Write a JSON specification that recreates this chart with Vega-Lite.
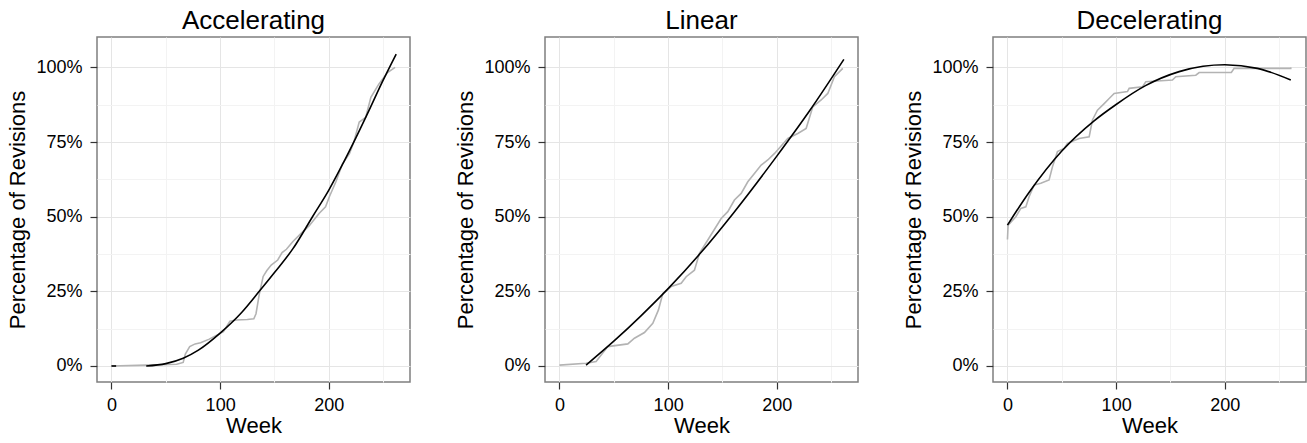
{
  "$schema": "https://vega.github.io/schema/vega-lite/v6.json",
  "background": "white",
  "padding": {"left": 6, "top": 8, "right": 0, "bottom": 0},
  "autosize": {"type": "pad"},
  "datasets": {
    "rows": [
      {"p":"Accelerating","s":"actual","w":0,"v":0},
      {"p":"Accelerating","s":"actual","w":32,"v":0.003},
      {"p":"Accelerating","s":"actual","w":60,"v":0.006},
      {"p":"Accelerating","s":"actual","w":66,"v":0.012},
      {"p":"Accelerating","s":"actual","w":68,"v":0.04},
      {"p":"Accelerating","s":"actual","w":72,"v":0.065},
      {"p":"Accelerating","s":"actual","w":77,"v":0.074},
      {"p":"Accelerating","s":"actual","w":82,"v":0.078},
      {"p":"Accelerating","s":"actual","w":90,"v":0.09},
      {"p":"Accelerating","s":"actual","w":103,"v":0.115},
      {"p":"Accelerating","s":"actual","w":109,"v":0.15},
      {"p":"Accelerating","s":"actual","w":115,"v":0.154},
      {"p":"Accelerating","s":"actual","w":125,"v":0.156},
      {"p":"Accelerating","s":"actual","w":131,"v":0.158},
      {"p":"Accelerating","s":"actual","w":133,"v":0.175},
      {"p":"Accelerating","s":"actual","w":136,"v":0.24},
      {"p":"Accelerating","s":"actual","w":139.6,"v":0.3},
      {"p":"Accelerating","s":"actual","w":143,"v":0.32},
      {"p":"Accelerating","s":"actual","w":147,"v":0.338},
      {"p":"Accelerating","s":"actual","w":153,"v":0.355},
      {"p":"Accelerating","s":"actual","w":157,"v":0.38},
      {"p":"Accelerating","s":"actual","w":161,"v":0.391},
      {"p":"Accelerating","s":"actual","w":167,"v":0.417},
      {"p":"Accelerating","s":"actual","w":174.5,"v":0.444},
      {"p":"Accelerating","s":"actual","w":182,"v":0.47},
      {"p":"Accelerating","s":"actual","w":191,"v":0.511},
      {"p":"Accelerating","s":"actual","w":197,"v":0.533},
      {"p":"Accelerating","s":"actual","w":200.5,"v":0.567},
      {"p":"Accelerating","s":"actual","w":206.5,"v":0.617},
      {"p":"Accelerating","s":"actual","w":212.7,"v":0.678},
      {"p":"Accelerating","s":"actual","w":219,"v":0.711},
      {"p":"Accelerating","s":"actual","w":223,"v":0.75},
      {"p":"Accelerating","s":"actual","w":228,"v":0.817},
      {"p":"Accelerating","s":"actual","w":234,"v":0.833},
      {"p":"Accelerating","s":"actual","w":238.7,"v":0.9},
      {"p":"Accelerating","s":"actual","w":246,"v":0.944},
      {"p":"Accelerating","s":"actual","w":254,"v":0.983},
      {"p":"Accelerating","s":"actual","w":261,"v":1.0},
      {"p":"Accelerating","s":"fit0","w":0,"v":0},
      {"p":"Accelerating","s":"fit0","w":4.3,"v":0},
      {"p":"Accelerating","s":"fit","w":32,"v":0},
      {"p":"Accelerating","s":"fit","w":50,"v":0.008},
      {"p":"Accelerating","s":"fit","w":66,"v":0.026},
      {"p":"Accelerating","s":"fit","w":80,"v":0.053},
      {"p":"Accelerating","s":"fit","w":100,"v":0.11},
      {"p":"Accelerating","s":"fit","w":120,"v":0.18},
      {"p":"Accelerating","s":"fit","w":136,"v":0.25},
      {"p":"Accelerating","s":"fit","w":150,"v":0.313},
      {"p":"Accelerating","s":"fit","w":167,"v":0.393},
      {"p":"Accelerating","s":"fit","w":185,"v":0.5},
      {"p":"Accelerating","s":"fit","w":200,"v":0.589},
      {"p":"Accelerating","s":"fit","w":213,"v":0.678},
      {"p":"Accelerating","s":"fit","w":225,"v":0.765},
      {"p":"Accelerating","s":"fit","w":237,"v":0.856},
      {"p":"Accelerating","s":"fit","w":249,"v":0.95},
      {"p":"Accelerating","s":"fit","w":262,"v":1.045},

      {"p":"Linear","s":"actual","w":0,"v":0.003},
      {"p":"Linear","s":"actual","w":24.5,"v":0.009},
      {"p":"Linear","s":"actual","w":33.7,"v":0.015},
      {"p":"Linear","s":"actual","w":44.5,"v":0.065},
      {"p":"Linear","s":"actual","w":62.9,"v":0.074},
      {"p":"Linear","s":"actual","w":69,"v":0.093},
      {"p":"Linear","s":"actual","w":78.2,"v":0.112},
      {"p":"Linear","s":"actual","w":85.9,"v":0.143},
      {"p":"Linear","s":"actual","w":91.1,"v":0.188},
      {"p":"Linear","s":"actual","w":95.1,"v":0.243},
      {"p":"Linear","s":"actual","w":102.8,"v":0.266},
      {"p":"Linear","s":"actual","w":112,"v":0.277},
      {"p":"Linear","s":"actual","w":116.6,"v":0.299},
      {"p":"Linear","s":"actual","w":124.2,"v":0.321},
      {"p":"Linear","s":"actual","w":128.8,"v":0.377},
      {"p":"Linear","s":"actual","w":136.5,"v":0.422},
      {"p":"Linear","s":"actual","w":148.8,"v":0.494},
      {"p":"Linear","s":"actual","w":154.9,"v":0.517},
      {"p":"Linear","s":"actual","w":161,"v":0.556},
      {"p":"Linear","s":"actual","w":167.2,"v":0.578},
      {"p":"Linear","s":"actual","w":173.3,"v":0.617},
      {"p":"Linear","s":"actual","w":179.4,"v":0.645},
      {"p":"Linear","s":"actual","w":185.6,"v":0.673},
      {"p":"Linear","s":"actual","w":191.7,"v":0.69},
      {"p":"Linear","s":"actual","w":197.9,"v":0.712},
      {"p":"Linear","s":"actual","w":210.1,"v":0.762},
      {"p":"Linear","s":"actual","w":219.3,"v":0.779},
      {"p":"Linear","s":"actual","w":227,"v":0.796},
      {"p":"Linear","s":"actual","w":233.1,"v":0.868},
      {"p":"Linear","s":"actual","w":240.8,"v":0.891},
      {"p":"Linear","s":"actual","w":246.9,"v":0.913},
      {"p":"Linear","s":"actual","w":253,"v":0.969},
      {"p":"Linear","s":"actual","w":260.7,"v":0.997},
      {"p":"Linear","s":"fit","w":24.5,"v":0.003},
      {"p":"Linear","s":"fit","w":50,"v":0.083},
      {"p":"Linear","s":"fit","w":75,"v":0.168},
      {"p":"Linear","s":"fit","w":100,"v":0.259},
      {"p":"Linear","s":"fit","w":130,"v":0.379},
      {"p":"Linear","s":"fit","w":160,"v":0.512},
      {"p":"Linear","s":"fit","w":200,"v":0.703},
      {"p":"Linear","s":"fit","w":230,"v":0.854},
      {"p":"Linear","s":"fit","w":261.7,"v":1.027},

      {"p":"Decelerating","s":"actual","w":0,"v":0.424},
      {"p":"Decelerating","s":"actual","w":0.6,"v":0.472},
      {"p":"Decelerating","s":"actual","w":7.7,"v":0.5},
      {"p":"Decelerating","s":"actual","w":12.3,"v":0.528},
      {"p":"Decelerating","s":"actual","w":16.9,"v":0.533},
      {"p":"Decelerating","s":"actual","w":19.9,"v":0.567},
      {"p":"Decelerating","s":"actual","w":24.5,"v":0.606},
      {"p":"Decelerating","s":"actual","w":30.7,"v":0.612},
      {"p":"Decelerating","s":"actual","w":38.3,"v":0.623},
      {"p":"Decelerating","s":"actual","w":41.4,"v":0.667},
      {"p":"Decelerating","s":"actual","w":46,"v":0.718},
      {"p":"Decelerating","s":"actual","w":52.1,"v":0.729},
      {"p":"Decelerating","s":"actual","w":55.2,"v":0.746},
      {"p":"Decelerating","s":"actual","w":66,"v":0.762},
      {"p":"Decelerating","s":"actual","w":75.2,"v":0.768},
      {"p":"Decelerating","s":"actual","w":78.2,"v":0.824},
      {"p":"Decelerating","s":"actual","w":82.8,"v":0.857},
      {"p":"Decelerating","s":"actual","w":89,"v":0.879},
      {"p":"Decelerating","s":"actual","w":93.6,"v":0.896},
      {"p":"Decelerating","s":"actual","w":98.2,"v":0.913},
      {"p":"Decelerating","s":"actual","w":110.4,"v":0.919},
      {"p":"Decelerating","s":"actual","w":112,"v":0.93},
      {"p":"Decelerating","s":"actual","w":124.2,"v":0.935},
      {"p":"Decelerating","s":"actual","w":127.3,"v":0.952},
      {"p":"Decelerating","s":"actual","w":151.8,"v":0.958},
      {"p":"Decelerating","s":"actual","w":154.9,"v":0.969},
      {"p":"Decelerating","s":"actual","w":173.3,"v":0.974},
      {"p":"Decelerating","s":"actual","w":176.4,"v":0.983},
      {"p":"Decelerating","s":"actual","w":206,"v":0.983},
      {"p":"Decelerating","s":"actual","w":208.6,"v":0.997},
      {"p":"Decelerating","s":"actual","w":260.7,"v":0.997},
      {"p":"Decelerating","s":"actual","w":260.8,"v":1.0},
      {"p":"Decelerating","s":"fit","w":0,"v":0.472},
      {"p":"Decelerating","s":"fit","w":20,"v":0.582},
      {"p":"Decelerating","s":"fit","w":50,"v":0.72},
      {"p":"Decelerating","s":"fit","w":80,"v":0.822},
      {"p":"Decelerating","s":"fit","w":100,"v":0.876},
      {"p":"Decelerating","s":"fit","w":127,"v":0.939},
      {"p":"Decelerating","s":"fit","w":158,"v":0.986},
      {"p":"Decelerating","s":"fit","w":180,"v":1.004},
      {"p":"Decelerating","s":"fit","w":200,"v":1.009},
      {"p":"Decelerating","s":"fit","w":230,"v":0.997},
      {"p":"Decelerating","s":"fit","w":260.7,"v":0.958}
    ]
  },
  "data": {"name": "rows"},
  "facet": {
    "column": {
      "field": "p",
      "type": "nominal",
      "sort": ["Accelerating", "Linear", "Decelerating"],
      "header": {
        "title": null,
        "labelFont": "Liberation Sans",
        "labelFontSize": 26,
        "labelColor": "#000000",
        "labelPadding": 3
      }
    }
  },
  "spacing": 135,
  "bounds": "flush",
  "resolve": {"axis": {"x": "independent", "y": "independent"}},
  "spec": {
    "width": 313,
    "height": 345,
    "encoding": {
      "x": {
        "field": "w",
        "type": "quantitative",
        "scale": {"domain": [-13.3, 274.7], "nice": false, "zero": false},
        "axis": {
          "title": "Week",
          "values": [0, 50, 100, 150, 200, 250],
          "labelExpr": "datum.value % 100 === 0 ? datum.label : ''",
          "tickColor": {"condition": {"test": "datum.value % 100 === 0", "value": "#333333"}, "value": "transparent"},
          "gridColor": {"condition": {"test": "datum.value % 100 === 0", "value": "#e5e5e5"}, "value": "#f3f3f3"},
          "labelPadding": 7,
          "titlePadding": 1
        }
      },
      "y": {
        "field": "v",
        "type": "quantitative",
        "scale": {"domain": [-0.0536, 1.102], "nice": false, "zero": false},
        "axis": {
          "title": "Percentage of Revisions",
          "values": [0, 0.125, 0.25, 0.375, 0.5, 0.625, 0.75, 0.875, 1],
          "labelExpr": "(datum.value * 100) % 25 === 0 ? format(datum.value, '.0%') : ''",
          "tickColor": {"condition": {"test": "(datum.value * 100) % 25 === 0", "value": "#333333"}, "value": "transparent"},
          "gridColor": {"condition": {"test": "(datum.value * 100) % 25 === 0", "value": "#e5e5e5"}, "value": "#f3f3f3"},
          "labelPadding": 8,
          "titlePadding": 6
        }
      }
    },
    "layer": [
      {
        "transform": [{"filter": "datum.s === 'actual'"}],
        "mark": {"type": "line", "color": "#b3b3b3", "strokeWidth": 1.6},
        "encoding": {"order": {"field": "w", "type": "quantitative"}}
      },
      {
        "transform": [{"filter": "datum.s !== 'actual'"}],
        "mark": {"type": "line", "color": "#000000", "strokeWidth": 1.6, "interpolate": "monotone"},
        "encoding": {"detail": {"field": "s", "type": "nominal"}, "order": {"field": "w", "type": "quantitative"}}
      }
    ]
  },
  "config": {
    "view": {"stroke": "#7f7f7f", "strokeWidth": 1.5},
    "axis": {
      "domain": false,
      "labelFont": "Liberation Sans",
      "labelFontSize": 18,
      "labelColor": "#000000",
      "titleFont": "Liberation Sans",
      "titleFontSize": 22,
      "titleFontWeight": "normal",
      "titleColor": "#000000",
      "tickSize": 7,
      "tickWidth": 1.2,
      "gridWidth": 1
    }
  }
}
